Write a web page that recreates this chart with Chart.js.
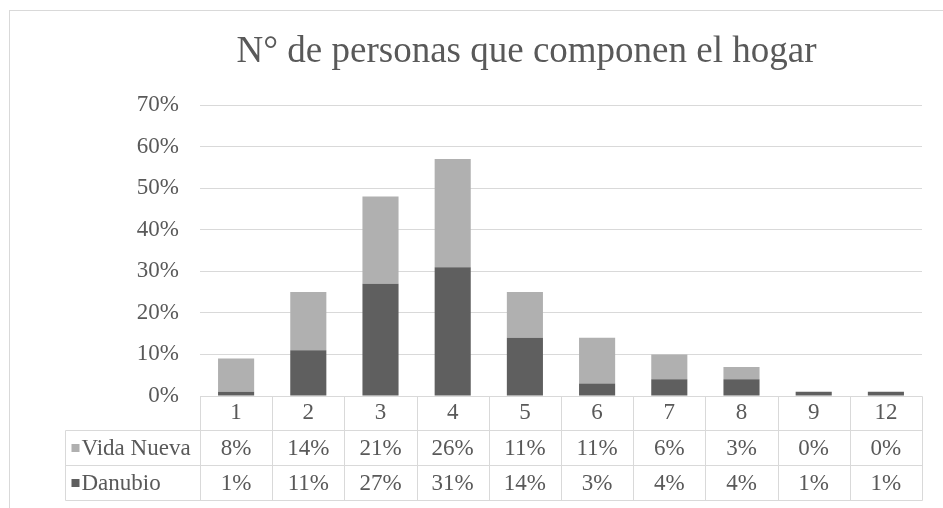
<!DOCTYPE html>
<html><head><meta charset="utf-8">
<script src="https://cdn.jsdelivr.net/npm/chart.js@4"></script>
<style>
html,body{margin:0;padding:0;background:#fff;}
#wrap{position:relative;width:943px;height:508px;overflow:hidden;}
#frame{position:absolute;left:9px;top:10px;width:1000px;height:600px;border-left:1px solid #d9d9d9;border-top:1px solid #d9d9d9;pointer-events:none;}
canvas{position:absolute;left:0;top:0;}
</style></head><body>
<div id="wrap"><canvas id="c" width="943" height="508"></canvas><div id="frame"></div></div>
<script>
const categories = ['1','2','3','4','5','6','7','8','9','12'];
const vidaNueva = [8,14,21,26,11,11,6,3,0,0];
const danubio = [1,11,27,31,14,3,4,4,1,1];
const seriesNames = ['Vida Nueva','Danubio'];
const chartTitle = 'N\u00B0 de personas que componen el hogar';

const FONT = 'Liberation Serif';
const TXT = '#595959';
const LINE = '#d9d9d9';
const C_VIDA = '#b0b0b0';
const C_DAN = '#5f5f5f';

const tablePlugin = {
  id: 'dataTable',
  afterDraw(chart) {
    const {ctx, chartArea, scales: {x}} = chart;
    const n = categories.length;
    const colW = (x.right - x.left) / n;
    const top0 = Math.round(chartArea.bottom) + 0.5;
    const r1 = Math.round(x.bottom) + 0.5;
    const rowH = 35;
    const r2 = r1 + rowH, r3 = r2 + rowH;
    const tableLeft = 65.5;
    const right = Math.round(x.right) + 0.5;
    ctx.save();
    ctx.strokeStyle = LINE;
    ctx.lineWidth = 1;
    ctx.beginPath();
    ctx.moveTo(Math.round(x.left) + 0.5, top0); ctx.lineTo(right, top0);
    [r1, r2, r3].forEach(y => { ctx.moveTo(tableLeft, y); ctx.lineTo(right, y); });
    for (let i = 0; i <= n; i++) {
      const xi = Math.round(x.left + i * colW) + 0.5;
      ctx.moveTo(xi, top0); ctx.lineTo(xi, r3);
    }
    ctx.moveTo(tableLeft, r1); ctx.lineTo(tableLeft, r3);
    ctx.stroke();

    const rows = [
      {name: seriesNames[0], data: vidaNueva, color: C_VIDA, y: (r1 + r2) / 2},
      {name: seriesNames[1], data: danubio, color: C_DAN, y: (r2 + r3) / 2}
    ];
    ctx.font = '23px "' + FONT + '"';
    ctx.fillStyle = TXT;
    ctx.textBaseline = 'middle';
    rows.forEach(row => {
      ctx.fillStyle = row.color;
      ctx.fillRect(tableLeft + 6, Math.round(row.y) - 4, 8, 8);
      ctx.fillStyle = TXT;
      ctx.textAlign = 'left';
      ctx.fillText(row.name, tableLeft + 16, row.y + 1);
      ctx.textAlign = 'center';
      row.data.forEach((v, i) => {
        ctx.fillText(v + '%', x.getPixelForValue(i), row.y + 1);
      });
    });
    ctx.restore();
  }
};

new Chart(document.getElementById('c'), {
  type: 'bar',
  data: {
    labels: categories,
    datasets: [
      {label: seriesNames[1], data: danubio, backgroundColor: C_DAN, stack: 's'},
      {label: seriesNames[0], data: vidaNueva, backgroundColor: C_VIDA, stack: 's'}
    ]
  },
  options: {
    responsive: false,
    animation: false,
    layout: {padding: {left: 131, right: 21, top: 10, bottom: 78}},
    datasets: {bar: {categoryPercentage: 1, barPercentage: 0.5}},
    plugins: {
      legend: {display: false},
      tooltip: {enabled: false},
      title: {
        display: true, text: chartTitle, color: TXT,
        font: {family: FONT, size: 37, weight: 'normal', lineHeight: 1.2},
        padding: {top: 20, bottom: 30.6}
      }
    },
    scales: {
      x: {
        stacked: true,
        grid: {display: false, drawTicks: false},
        border: {display: false},
        ticks: {color: TXT, font: {family: FONT, size: 23}, padding: 3},
        afterFit: s => { s.height = 34; }
      },
      y: {
        stacked: true, min: 0, max: 70,
        grid: {color: LINE, drawTicks: false},
        border: {display: false},
        ticks: {stepSize: 10, color: TXT, font: {family: FONT, size: 23}, padding: 21, callback: v => v + '%'},
        afterFit: s => { s.width = 69; }
      }
    }
  },
  plugins: [tablePlugin]
});
</script>
</body></html>
